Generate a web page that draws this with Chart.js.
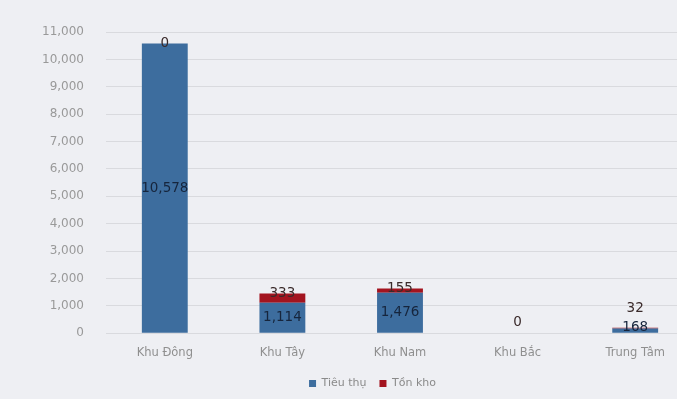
<!DOCTYPE html>
<html><head><meta charset="utf-8">
<script src="https://cdn.jsdelivr.net/npm/chart.js@4"></script>
<style>html,body{margin:0;padding:0;background:#eeeff3;}#wrap{width:677px;height:399px;}</style>
</head><body><div id="wrap"><canvas id="c" width="677" height="399"></canvas></div>
<script>
const categories = ["Khu Đông", "Khu Tây", "Khu Nam", "Khu Bắc", "Trung Tâm"];
const tieuThu = [10578, 1114, 1476, 0, 168];
const tonKho = [0, 333, 155, 0, 32];
const yTicks = [0,1000,2000,3000,4000,5000,6000,7000,8000,9000,10000,11000];

const fmt = v => v.toLocaleString('en-US');
const FONT = '"DejaVu Sans", Verdana, sans-serif';

// the plot area of the original runs past the right edge of the picture
const extendRight = {
  id: 'extendRight',
  afterLayout(chart) {
    const ext = 17;
    const x = chart.scales.x;
    chart.chartArea.right += ext;
    chart.chartArea.width += ext;
    x.right += ext;
    x.width += ext;
    x.configure();
    const lg = chart.legend;
    if (lg) { lg.left += 24; lg.right += 24; }
  }
};

const labelPlugin = {
  id: 'stackLabels',
  afterDatasetsDraw(chart) {
    const ctx = chart.ctx;
    const m0 = chart.getDatasetMeta(0), m1 = chart.getDatasetMeta(1);
    const base = chart.scales.y.getPixelForValue(0);
    ctx.save();
    ctx.font = '13.5px ' + FONT;
    ctx.textAlign = 'center';
    ctx.textBaseline = 'middle';
    for (let i = 0; i < categories.length; i++) {
      const b0 = m0.data[i], b1 = m1.data[i];
      let tY = null;
      if (tieuThu[i] > 0) {
        tY = Math.min((b0.y + b0.base) / 2, base - 6);
        ctx.fillStyle = '#16253c';
        ctx.fillText(fmt(tieuThu[i]), b0.x, tY);
      }
      let kY = Math.min(b1.y, base - 11);
      if (tY !== null) kY = Math.min(kY, tY - 19);
      ctx.fillStyle = '#3a2a2a';
      ctx.fillText(fmt(tonKho[i]), b1.x, kY);
    }
    ctx.restore();
  }
};

new Chart(document.getElementById('c'), {
  type: 'bar',
  data: {
    labels: categories,
    datasets: [
      { label: 'Tiêu thụ', data: tieuThu, backgroundColor: '#3d6d9e', barPercentage: 0.39, categoryPercentage: 1 },
      { label: 'Tồn kho', data: tonKho, backgroundColor: '#a3141f', barPercentage: 0.39, categoryPercentage: 1 }
    ]
  },
  options: {
    responsive: false,
    animation: false,
    layout: { padding: { left: 20, right: 0, top: 32, bottom: 0 } },
    plugins: {
      legend: {
        position: 'bottom',
        fullSize: true,
        labels: { boxWidth: 7, boxHeight: 7, color: '#8a8a8a', font: { size: 11, family: FONT }, padding: 13 }
      },
      tooltip: { enabled: false }
    },
    scales: {
      x: {
        stacked: true,
        grid: { display: false },
        border: { display: false },
        ticks: { color: '#8f8f8f', font: { size: 11.5, family: FONT }, padding: 5 }
      },
      y: {
        stacked: true,
        min: 0, max: 11000,
        afterBuildTicks: s => { s.ticks = yTicks.map(v => ({ value: v })); },
        grid: { color: '#d9dade', drawTicks: false },
        border: { display: false },
        ticks: { color: '#999999', padding: 22, font: { size: 12, family: FONT }, callback: v => fmt(v) }
      }
    }
  },
  plugins: [extendRight, labelPlugin]
});
</script></body></html>
